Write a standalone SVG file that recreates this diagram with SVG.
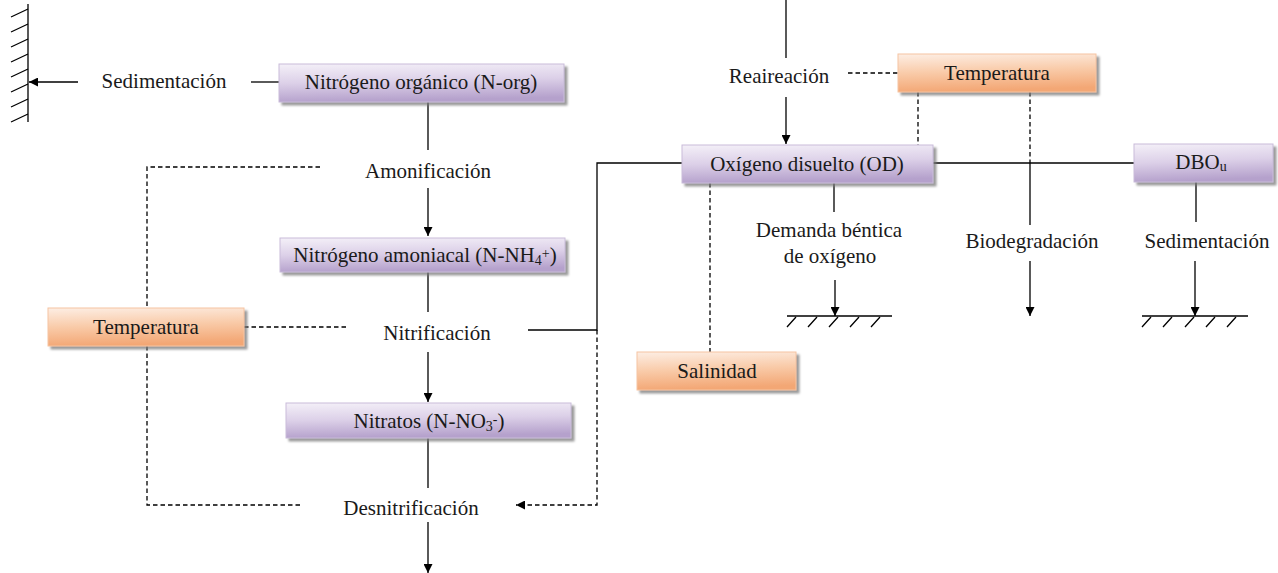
<svg xmlns="http://www.w3.org/2000/svg" width="1278" height="573" viewBox="0 0 1278 573">
<defs>
  <linearGradient id="gp" x1="0" y1="0" x2="0.15" y2="1">
    <stop offset="0" stop-color="#f4f0f8"/>
    <stop offset="0.5" stop-color="#dcd0e8"/>
    <stop offset="1" stop-color="#b5a1cc"/>
  </linearGradient>
  <linearGradient id="go" x1="0" y1="0" x2="0.15" y2="1">
    <stop offset="0" stop-color="#fdeee4"/>
    <stop offset="0.5" stop-color="#f9cba9"/>
    <stop offset="1" stop-color="#f3a775"/>
  </linearGradient>
  <filter id="sh" x="-10%" y="-20%" width="130%" height="160%">
    <feDropShadow dx="3" dy="3" stdDeviation="1.2" flood-color="#7a7a7a" flood-opacity="0.75"/>
  </filter>
  <marker id="ah" viewBox="0 0 10 10" refX="10" refY="5" markerWidth="9" markerHeight="9" markerUnits="userSpaceOnUse" orient="auto">
    <path d="M0,0 L10,5 L0,10 z" fill="#000"/>
  </marker>
</defs>
<style>
  text { font-family: "Liberation Serif", "Times New Roman", serif; font-size: 21px; fill: #1a1a1a; text-anchor: middle; }
  .p { fill: url(#gp); stroke: #c9bcd9; stroke-width: 1; filter: url(#sh); }
  .o { fill: url(#go); stroke: #f5c4a2; stroke-width: 1; filter: url(#sh); }
  .s { stroke: #000; stroke-width: 1.3; fill: none; }
  .d { stroke: #000; stroke-width: 1.3; fill: none; stroke-dasharray: 4.5 3; }
  .a { marker-end: url(#ah); }
  .sm { font-size: 14px; }
</style>

<g id="connectors">
  <!-- left hatch wall -->
  <path class="s" d="M28,4 V122"/>
  <path class="s" d="M11,17 L28,9 M11,32 L28,24 M11,47 L28,39 M11,62 L28,54 M11,77 L28,69 M11,92 L28,84 M11,107 L28,99 M11,122 L28,114"/>
  <path class="s a" d="M78,82 H29"/>
  <path class="s" d="M251,82 H279"/>
  <!-- nitrogen chain -->
  <path class="s" d="M428,102 V150"/>
  <path class="s a" d="M428,188 V236"/>
  <path class="s" d="M428,272 V312"/>
  <path class="s a" d="M428,352 V402"/>
  <path class="s" d="M428,438 V488"/>
  <path class="s a" d="M428,522 V573"/>
  <!-- left temperature dashed -->
  <path class="d" d="M320,167 H147 V308"/>
  <path class="d" d="M147,346 V505 H300"/>
  <path class="d" d="M244,327 H346"/>
  <!-- nitrification to OD -->
  <path class="s" d="M528,330 H597 V163 H682"/>
  <path class="d a" d="M597,330 V505 H516"/>
  <!-- reaeration -->
  <path class="s" d="M786,0 V58"/>
  <path class="s a" d="M786,97 V144"/>
  <path class="d" d="M848,73 H898"/>
  <path class="d" d="M918,92 V145"/>
  <path class="d" d="M1030,92 V163"/>
  <path class="s" d="M1030,163 V225"/>
  <path class="s a" d="M1030,261 V316"/>
  <!-- OD to DBO -->
  <path class="s" d="M933,163 H1134"/>
  <!-- benthic demand -->
  <path class="s" d="M834,183 V212"/>
  <path class="s a" d="M835,280 V316"/>
  <path class="s" d="M787,316 H892"/>
  <path class="s" d="M787,327 L796,317 M808,327 L817,317 M829,327 L838,317 M850,327 L859,317 M871,327 L880,317"/>
  <!-- salinity -->
  <path class="d" d="M710,183 V352"/>
  <!-- DBO sedimentation -->
  <path class="s" d="M1196,182 V222"/>
  <path class="s a" d="M1195,261 V316"/>
  <path class="s" d="M1142,316 H1248"/>
  <path class="s" d="M1142,327 L1151,317 M1163,327 L1172,317 M1185,327 L1194,317 M1206,327 L1215,317 M1227,327 L1236,317"/>
</g>

<g id="label-sedimentacion-1"><text x="164" y="88">Sedimentación</text></g>
<g id="label-amonificacion"><text x="428" y="178">Amonificación</text></g>
<g id="label-nitrificacion"><text x="437" y="340">Nitrificación</text></g>
<g id="label-desnitrificacion"><text x="411" y="515">Desnitrificación</text></g>
<g id="label-reaireacion"><text x="779" y="83">Reaireación</text></g>
<g id="label-demanda"><text x="829" y="237">Demanda béntica</text><text x="830" y="263">de oxígeno</text></g>
<g id="label-biodegradacion"><text x="1032" y="248">Biodegradación</text></g>
<g id="label-sedimentacion-2"><text x="1207" y="248">Sedimentación</text></g>

<g id="n-org">
  <rect class="p" x="279" y="64" width="285" height="38"/>
  <text x="421" y="89">Nitrógeno orgánico (N-org)</text>
</g>
<g id="n-nh4">
  <rect class="p" x="280" y="238" width="285" height="34"/>
  <text x="425" y="262">Nitrógeno amoniacal (N-NH<tspan class="sm" dy="3">4</tspan><tspan class="sm" dy="-7">+</tspan><tspan dy="4">)</tspan></text>
</g>
<g id="n-no3">
  <rect class="p" x="286" y="403" width="285" height="35"/>
  <text x="429" y="428">Nitratos (N-NO<tspan class="sm" dy="3">3</tspan><tspan class="sm" dy="-7">-</tspan><tspan dy="4">)</tspan></text>
</g>
<g id="temp-left">
  <rect class="o" x="48" y="308" width="196" height="38"/>
  <text x="146" y="334">Temperatura</text>
</g>
<g id="temp-right">
  <rect class="o" x="898" y="54" width="198" height="38"/>
  <text x="997" y="80">Temperatura</text>
</g>
<g id="od">
  <rect class="p" x="682" y="145" width="251" height="38"/>
  <text x="807" y="171">Oxígeno disuelto (OD)</text>
</g>
<g id="dbo">
  <rect class="p" x="1134" y="144" width="139" height="38"/>
  <text x="1201" y="169">DBO<tspan class="sm" dy="2">u</tspan></text>
</g>
<g id="salinidad">
  <rect class="o" x="637" y="352" width="159" height="38"/>
  <text x="717" y="378">Salinidad</text>
</g>
</svg>
